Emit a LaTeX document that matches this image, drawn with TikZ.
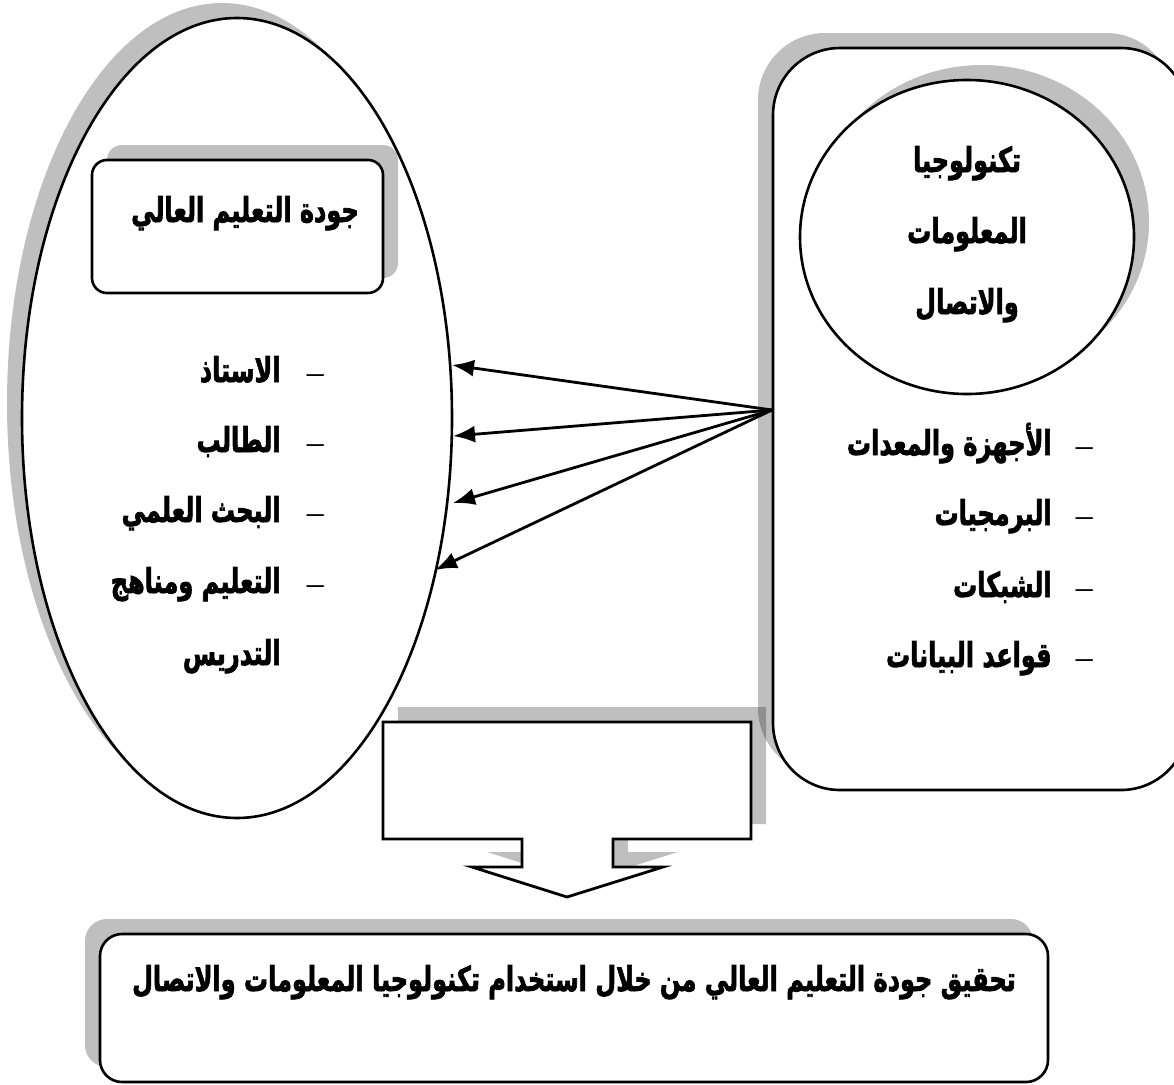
\documentclass[tikz,border=0pt]{standalone}
\usepackage{fontspec}
\newfontfamily\arabicfont[Script=Arabic,BoldFont={DejaVu Sans Bold},BoldFeatures={FakeBold=2.4}]{DejaVu Sans}
\newfontfamily\dashfont{Liberation Sans}
\TeXXeTstate=1
\usetikzlibrary{shapes.geometric,shadows,arrows.meta}
\newcommand{\artext}[1]{\scalebox{1}[1.42]{\beginR #1\endR}}
\newcommand{\ardash}{\beginL{\dashfont\mdseries\scalebox{1.3}[0.8]{–}}\endL}
\begin{document}
\begin{tikzpicture}[x=1pt,y=-1pt,
  ar/.style={font=\arabicfont\bfseries\fontsize{24}{28}\selectfont, inner sep=0pt, outer sep=0pt},
  outline/.style={draw=black, line width=2.6pt, fill=white, inner sep=0pt, outer sep=0pt},
  shUL/.style={drop shadow={shadow xshift=-15pt,shadow yshift=15pt,fill=black,opacity=0.25}},
  shUR/.style={drop shadow={shadow xshift=15pt,shadow yshift=15pt,fill=black,opacity=0.25}},
  link/.style={line width=2.8pt, -{Latex[length=22pt,width=17pt]}}]

\useasboundingbox (0,0) rectangle (1174,1084);
\fill[white] (0,0) rectangle (1174,1084);
\clip (0,0) rectangle (1174,1084);

% left ellipse
\node[outline, ellipse, shUL, minimum width=430pt, minimum height=800pt] (ell) at (237,418) {};
% quality box
\node[outline, rectangle, rounded corners=15pt, shUR, minimum width=291pt, minimum height=133pt] (qbox) at (237.5,226.5) {};
% right rounded box
\node[outline, rectangle, rounded corners=67pt, shUL, minimum width=415pt, minimum height=742pt] (rbox) at (980.5,419) {};
% ICT circle
\node[outline, ellipse, shUR, minimum width=334pt, minimum height=314pt] (ict) at (967,237) {};

% block down arrow callout
\draw[line width=2.8pt, fill=white, shUR]
  (383,722) -- (751,722) -- (751,839) -- (613,839) -- (613,867) -- (663,867)
  -- (567,897) -- (472,867) -- (522,867) -- (522,839) -- (383,839) -- cycle;

% result box
\node[outline, rectangle, rounded corners=22pt, shUL, minimum width=948pt, minimum height=148pt] (res) at (574,1008) {};

% texts
\node[ar, anchor=base] (qtxt) at (245,222) {\artext{جودة التعليم العالي}};

\node[ar, anchor=base] (ict1) at (967,172) {\artext{تكنولوجيا}};
\node[ar, anchor=base] (ict2) at (967,243) {\artext{المعلومات}};
\node[ar, anchor=base] (ict3) at (967,314) {\artext{والاتصال}};

\node[ar, anchor=base east] (l1) at (324,382) {\artext{\ardash\hspace{26pt}الاستاذ}};
\node[ar, anchor=base east] (l2) at (324,452) {\artext{\ardash\hspace{26pt}الطالب}};
\node[ar, anchor=base east] (l3) at (324,522) {\artext{\ardash\hspace{26pt}البحث العلمي}};
\node[ar, anchor=base east] (l4) at (324,593) {\artext{\ardash\hspace{26pt}التعليم ومناهج}};
\node[ar, anchor=base east] (l5) at (324,665) {\artext{\phantom{\ardash}\hspace{26pt}التدريس}};

\node[ar, anchor=base east] (r1) at (1093,455) {\artext{\ardash\hspace{24pt}الأجهزة والمعدات}};
\node[ar, anchor=base east] (r2) at (1093,525) {\artext{\ardash\hspace{24pt}البرمجيات}};
\node[ar, anchor=base east] (r3) at (1093,597) {\artext{\ardash\hspace{24pt}الشبكات}};
\node[ar, anchor=base east] (r4) at (1093,667) {\artext{\ardash\hspace{24pt}قواعد البيانات}};

\node[ar, anchor=base] (restxt) at (574,991) {\artext{تحقيق جودة التعليم العالي من خلال استخدام تكنولوجيا المعلومات والاتصال}};

% connectors
\coordinate (src) at (772,410);
\coordinate (t1) at (452,365);
\coordinate (t2) at (453,436);
\coordinate (t3) at (453,503);
\coordinate (t4) at (435,570);
\draw[link] (src) -- (t1);
\draw[link] (src) -- (t2);
\draw[link] (src) -- (t3);
\draw[link] (src) -- (t4);
\end{tikzpicture}
\end{document}
